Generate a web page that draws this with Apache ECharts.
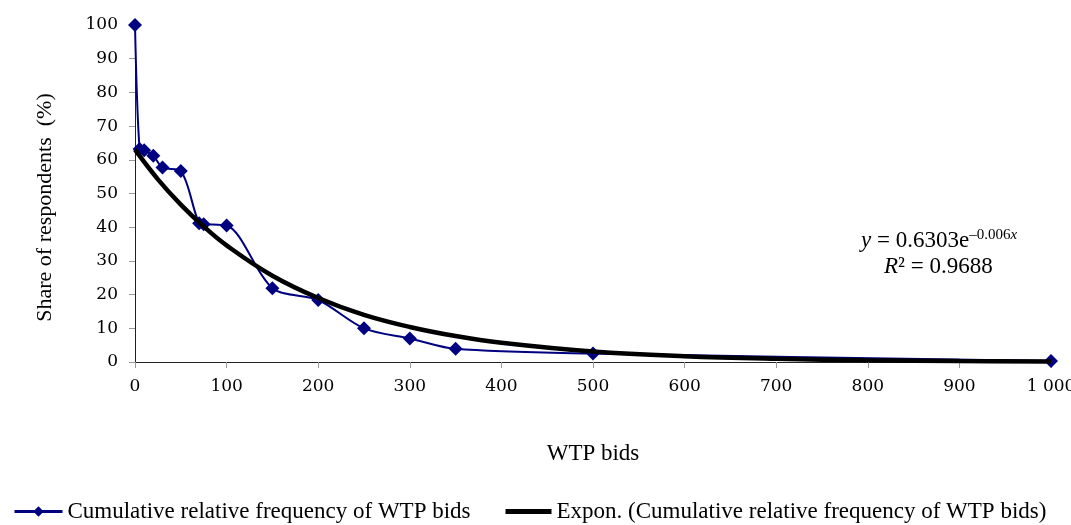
<!DOCTYPE html>
<html>
<head>
<meta charset="utf-8">
<script src="https://cdn.jsdelivr.net/npm/echarts@6/dist/echarts.min.js"></script>
<style>
  html, body { margin: 0; padding: 0; background: #fff; }
  #chart { width: 1071px; height: 525px; }
</style>
</head>
<body>
<div id="chart"></div>
<script>
// WTP bids and cumulative share of respondents (%)
var bids = [0, 5, 10, 20, 30, 50, 70, 75, 100, 150, 200, 250, 300, 350, 500, 1000];
var share = [100, 63.2, 62.8, 61.2, 57.7, 56.7, 41.2, 40.9, 40.5, 21.9, 18.4, 10.0, 7.0, 3.9, 2.5, 0.3];

// exponential trend line
var trendX = [0, 25, 50, 75, 100, 150, 200, 250, 300, 350, 400, 500, 600, 700, 800, 900, 1000];
var trendY = [63, 54.2, 46.7, 40.2, 34.6, 25.6, 19.0, 14.0, 10.4, 7.7, 5.7, 3.1, 1.7, 0.94, 0.52, 0.28, 0.16];

var serieName = 'Cumulative relative frequency of WTP bids';
var trendName = 'Expon. (Cumulative relative frequency of WTP bids)';

function pairs(xs, ys) {
  var out = [];
  for (var i = 0; i < xs.length; i++) out.push([xs[i], ys[i]]);
  return out;
}

var font = 'Liberation Serif, Times New Roman, serif';
var tickFont = 'DejaVu Serif, serif';

var chart = echarts.init(document.getElementById('chart'));
chart.setOption({
  animation: false,
  textStyle: { fontFamily: font, color: '#000' },
  grid: { left: 135, right: 20, top: 25, bottom: 163, outerBoundsMode: 'none', containLabel: false },
  xAxis: {
    type: 'value',
    min: 0, max: 1000, interval: 100,
    name: 'WTP bids',
    nameLocation: 'middle',
    nameGap: 80,
    nameTextStyle: { fontSize: 23, color: '#000', fontFamily: font },
    axisLine: { lineStyle: { color: '#222', width: 1 } },
    axisTick: { show: true, length: 6, lineStyle: { color: '#999' } },
    axisLabel: {
      fontSize: 17, color: '#000', fontFamily: tickFont, margin: 16,
      formatter: function (v) { return v === 1000 ? '1 000' : String(v); }
    },
    splitLine: { show: false }
  },
  yAxis: {
    type: 'value',
    min: 0, max: 100, interval: 10,
    name: 'Share of respondents  (%)',
    nameLocation: 'middle',
    nameGap: 79,
    nameTextStyle: { fontSize: 22, color: '#000', fontFamily: font, padding: [0, 28, 0, 0] },
    axisLine: { show: true, lineStyle: { color: '#222', width: 1 } },
    axisTick: { show: true, length: 6, lineStyle: { color: '#999' } },
    axisLabel: { fontSize: 17, color: '#000', fontFamily: tickFont, margin: 17 },
    splitLine: { show: false }
  },
  legend: [{
    bottom: -3,
    left: 8,
    itemWidth: 48,
    itemHeight: 13,
    lineStyle: { width: 3 },
    textStyle: { fontSize: 23, color: '#000', fontFamily: font },
    data: [serieName]
  }, {
    bottom: -3,
    left: 498,
    itemWidth: 46,
    itemHeight: 13,
    lineStyle: { width: 5 },
    textStyle: { fontSize: 23, color: '#000', fontFamily: font },
    data: [{ name: trendName, itemStyle: { opacity: 0 } }]
  }],
  graphic: [{
    type: 'text',
    left: 861, top: 228,
    style: {
      text: '{i|y} = 0.6303e{sup|\u20130.006}{supi|x}',
      font: '23px ' + font,
      fill: '#000',
      rich: {
        i: { fontStyle: 'italic', fontSize: 23, fontFamily: font },
        sup: { fontSize: 15, fontFamily: font, verticalAlign: 'top', padding: [0, 0, 10, 0] },
        supi: { fontSize: 15, fontStyle: 'italic', fontFamily: font, verticalAlign: 'top', padding: [0, 0, 10, 0] }
      }
    }
  }, {
    type: 'text',
    left: 884, top: 255,
    style: {
      text: '{i|R}\u00b2 = 0.9688',
      font: '23px ' + font,
      fill: '#000',
      rich: { i: { fontStyle: 'italic', fontSize: 23, fontFamily: font } }
    }
  }],
  series: [{
    name: serieName,
    type: 'line',
    data: pairs(bids, share),
    smooth: 0.3,
    symbol: 'diamond',
    symbolSize: 14,
    z: 2,
    lineStyle: { color: '#000080', width: 2 },
    itemStyle: { color: '#000080' }
  }, {
    name: trendName,
    type: 'line',
    data: pairs(trendX, trendY),
    smooth: 0.4,
    showSymbol: false,
    symbol: 'none',
    z: 3,
    lineStyle: { color: '#000', width: 4.5 },
    itemStyle: { color: '#000' }
  }]
});
</script>
</body>
</html>
